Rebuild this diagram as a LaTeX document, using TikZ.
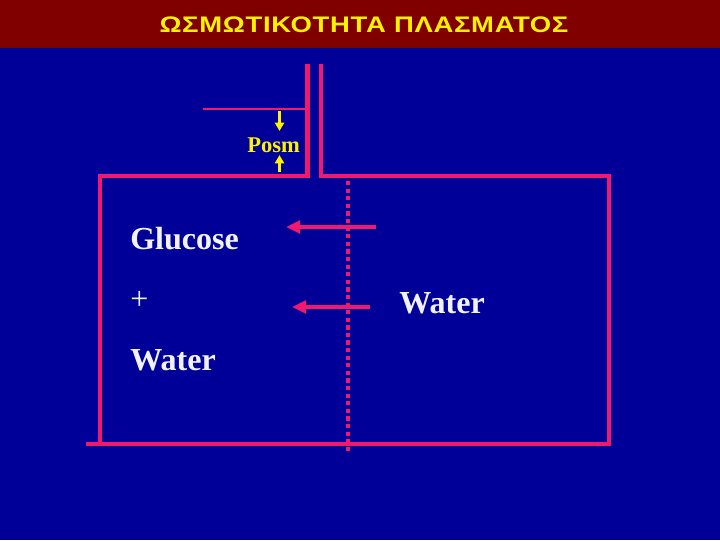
\documentclass[tikz,border=0pt]{standalone}
\usepackage{fontspec}
\setmainfont{Liberation Serif}
\newfontfamily\titlefont[FakeStretch=1.22, LetterSpace=3]{Liberation Sans}
\usepackage{xcolor}
\usetikzlibrary{arrows.meta,positioning}

\definecolor{slideblue}{HTML}{000099}
\definecolor{barred}{HTML}{800000}
\definecolor{wallpink}{HTML}{F0196E}
\definecolor{labelyellow}{HTML}{FFF200}
\definecolor{labelwhite}{HTML}{F2F2FF}

\begin{document}
\begin{tikzpicture}[
  x=0.025cm, y=-0.025cm,
  wall/.style={draw=wallpink, line width=3.5pt, line cap=rect},
  membrane/.style={draw=wallpink, line width=3.2pt, dash pattern=on 3pt off 2.4pt},
  flow/.style={draw=wallpink, line width=3pt, -{Triangle[length=10pt, width=9pt]}},
  press/.style={draw=labelyellow, line width=1.6pt, -{Triangle[length=6pt, width=6.5pt]}},
  word/.style={text=labelwhite, font=\fontsize{22.8}{26}\selectfont\bfseries, inner sep=0pt, anchor=base west},
  title/.style={text=labelyellow, font=\titlefont\fontsize{16}{19}\selectfont\bfseries, inner sep=0pt}
]
% background and title bar
\useasboundingbox (0,0) rectangle (720,540);
\fill[slideblue] (0,0) rectangle (720,540);
\fill[barred] (0,0) rectangle (720,48);
\node[title] (heading) at (364,24.5) {ΩΣΜΩΤΙΚΟΤΗΤΑ ΠΛΑΣΜΑΤΟΣ};

% tank with tube
\coordinate (tubeL) at (307.5,66);
\coordinate (tubeR) at (321,66);
\draw[wall] (tubeL) -- (307.5,176) -- (100,176) -- (100,444);
\draw[wall] (tubeR) -- (321,176) -- (609,176) -- (609,444);
\draw[wall] (88,444) -- (609,444);

% membrane
\coordinate (memtop) at (348,181);
\coordinate (membot) at (348,452);
\draw[membrane] (memtop) -- (membot);

% level line and pressure label
\coordinate (lvlA) at (203,109);
\coordinate (lvlB) at (305,109);
\draw[wallpink, line width=0.9pt] (lvlA) -- (lvlB);
\node[text=labelyellow, font=\fontsize{16}{18}\selectfont\bfseries, inner sep=0pt] (posm) at (273.5,145) {Posm};
\coordinate (dnA) at (279.5,111);
\coordinate (upA) at (279.5,172);
\draw[press] (dnA) -- (279.5,131);
\draw[press] (upA) -- (279.5,155);

% water flow
\coordinate (f1s) at (376,227);
\coordinate (f1e) at (286,227);
\coordinate (f2s) at (370,307);
\coordinate (f2e) at (292,307);
\draw[flow] (f1s) -- (f1e);
\draw[flow] (f2s) -- (f2e);

% labels
\node[word] (glu) at (130,249) {Glucose};
\node[word, font=\fontsize{22.8}{26}\selectfont] (plus) at (130,309) {+};
\node[word] (watL) at (130,370) {Water};
\node[word] (watR) at (399,313) {Water};
\end{tikzpicture}
\end{document}
